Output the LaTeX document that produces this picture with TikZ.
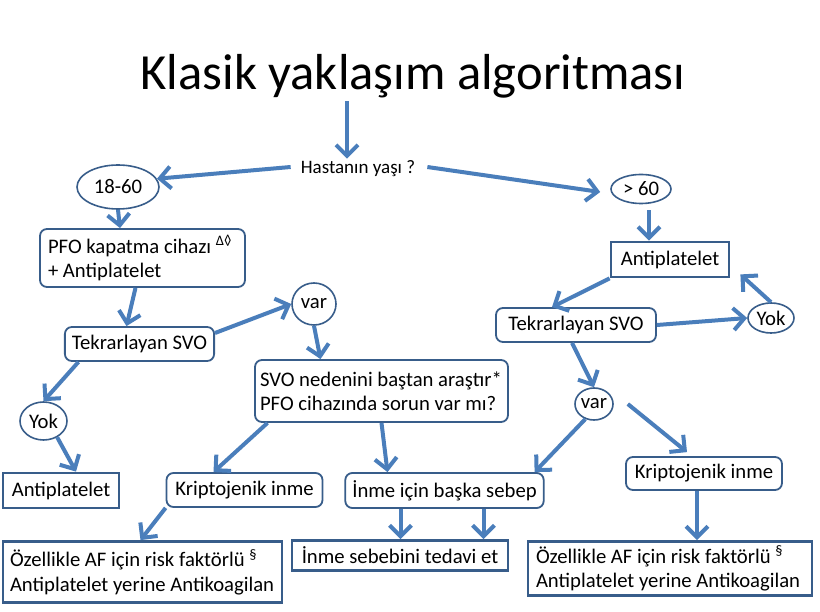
\documentclass[tikz,border=0pt]{standalone}
\usepackage{fontspec}
\setmainfont{Carlito}
\usetikzlibrary{shapes.geometric,arrows.meta}
\definecolor{arrowBlue}{HTML}{4A7EBB}
\definecolor{lineBlue}{HTML}{385D8A}
\newcommand{\boxfont}{\fontsize{20.7}{24.5}\selectfont}
\begin{document}
\begin{tikzpicture}
        [x=1pt, y=-1pt,
        nodeOval/.style={ellipse, draw=lineBlue, line width=1.6pt, inner sep=0pt, font=\boxfont},
        nodeRound/.style={rectangle, rounded corners=7pt, draw=lineBlue, line width=1.8pt, inner xsep=7pt, inner ysep=0pt, font=\boxfont},
        nodeSharp/.style={rectangle, draw=lineBlue, line width=2.8pt, inner xsep=7pt, inner ysep=0pt, font=\boxfont},
        flow/.style={draw=arrowBlue, line width=4pt, -{Straight Barb[length=11pt,width=22pt]}}]
        \useasboundingbox (0,0) rectangle (820,612);
        \node[font=\fontsize{50.6}{60}\selectfont, inner sep=0pt, anchor=base] (T) at (413,90) {Klasik yaklaşım algoritması};
        \node[font=\fontsize{19}{22}\selectfont, inner sep=2pt] (H) at (358,169) {Hastanın yaşı ?};

        \node[nodeOval, minimum width=82pt, minimum height=44pt] (A) at (118,187) {18-60};
        \node[nodeRound, text width=189pt, inner xsep=8pt, minimum height=58pt, align=flush left] (B) at (142.5,258) {PFO kapatma cihazı \textsuperscript{Δ◊}\\+ Antiplatelet};
        \node[nodeRound, minimum width=147pt, minimum height=34pt] (C) at (139.5,344) {Tekrarlayan SVO};
        \node[nodeOval, minimum width=44pt, minimum height=42pt] (D) at (314,304) {var};
        \node[nodeRound, text width=243pt, inner xsep=5pt, minimum height=62pt, align=flush left] (E) at (381.5,391) {SVO nedenini baştan araştır*\\PFO cihazında sorun var mı?};
        \node[nodeOval, minimum width=47pt, minimum height=38pt] (F) at (43.5,421) {Yok};
        \node[nodeSharp, minimum width=116pt, minimum height=35pt] (G) at (61,490.5) {Antiplatelet};
        \node[nodeRound, minimum width=156pt, minimum height=34pt] (K) at (244.5,490) {Kriptojenik inme};
        \node[nodeSharp, text width=265pt, inner xsep=7pt, minimum height=61pt, align=flush left] (L) at (142.5,572) {Özellikle AF için risk faktörlü \textsuperscript{§}\\Antiplatelet yerine Antikoagilan};
        \node[nodeRound, minimum width=197pt, minimum height=35pt] (M) at (444.5,490.5) {İnme için başka sebep};
        \node[nodeSharp, minimum width=216pt, minimum height=30pt] (N) at (400,555.5) {İnme sebebini tedavi et};

        \node[nodeOval, minimum width=60pt, minimum height=29pt] (P) at (641,189) {> 60};
        \node[nodeSharp, minimum width=118pt, minimum height=35pt] (Q) at (670,259.5) {Antiplatelet};
        \node[nodeRound, minimum width=160pt, minimum height=34pt] (R) at (576,325) {Tekrarlayan SVO};
        \node[nodeOval, minimum width=46pt, minimum height=30pt] (S) at (771,318) {Yok};
        \node[nodeOval, minimum width=38pt, minimum height=32pt] (U) at (594,404) {var};
        \node[nodeRound, minimum width=156pt, minimum height=33pt] (V) at (704,473.5) {Kriptojenik inme};
        \node[nodeSharp, text width=268pt, inner xsep=8pt, minimum height=54pt, align=flush left] (W) at (670,568.5) {Özellikle AF için risk faktörlü \textsuperscript{§}\\Antiplatelet yerine Antikoagilan};

        \draw[flow] ([xshift=-66pt,yshift=-2.5pt]T.south) -- ([xshift=-11pt]H.north);
        \draw[flow] ([xshift=-8pt,yshift=2pt]H.west) -- (A.12);
        \draw[flow] ([xshift=10pt,yshift=2pt]H.east) -- ([xshift=-10pt,yshift=-3pt]P.west);

        \draw[flow] (A.south) -- ([xshift=-22.5pt]B.north);
        \draw[flow] ([xshift=-7pt]B.south) -- ([xshift=-13pt]C.north);
        \draw[flow] ([yshift=11pt]C.east) -- (D.west);
        \draw[flow] (D.south) -- ([xshift=-61pt]E.north);
        \draw[flow] ([xshift=-61pt]C.south) -- (F.north);
        \draw[flow] (F.-50) -- ([xshift=15pt]G.north);
        \draw[flow] ([xshift=-114pt]E.south) -- ([xshift=-31pt]K.north);
        \draw[flow] (K.south west) -- ([xshift=-2pt]L.north);
        \draw[flow] (E.south) -- ([xshift=-57pt]M.north);
        \draw[flow] ([xshift=-44pt]M.south) -- ([xshift=-44pt]M.south |- N.north);
        \draw[flow] ([xshift=39pt]M.south) -- ([xshift=39pt]M.south |- N.north);

        \draw[flow] ([xshift=8pt,yshift=-6pt]P.south) -- ([xshift=-21pt]Q.north);
        \draw[flow] (Q.south west) -- ([xshift=-24pt]R.north);
        \draw[flow] (R.east) -- (S.west);
        \draw[flow] (S.north) -- ([xshift=10pt,yshift=4pt]Q.south east);
        \draw[flow] ([xshift=-4pt]R.south) -- (U.north);
        \draw[flow] (U.-120) -- ([xshift=-10pt]M.north east);
        \draw[flow] ([xshift=14pt]U.east) -- ([xshift=-17pt,yshift=4pt]V.north);
        \draw[flow] ([xshift=-7pt]V.south) -- ([xshift=-7pt]V.south |- W.north);
    \end{tikzpicture}
\end{document}
